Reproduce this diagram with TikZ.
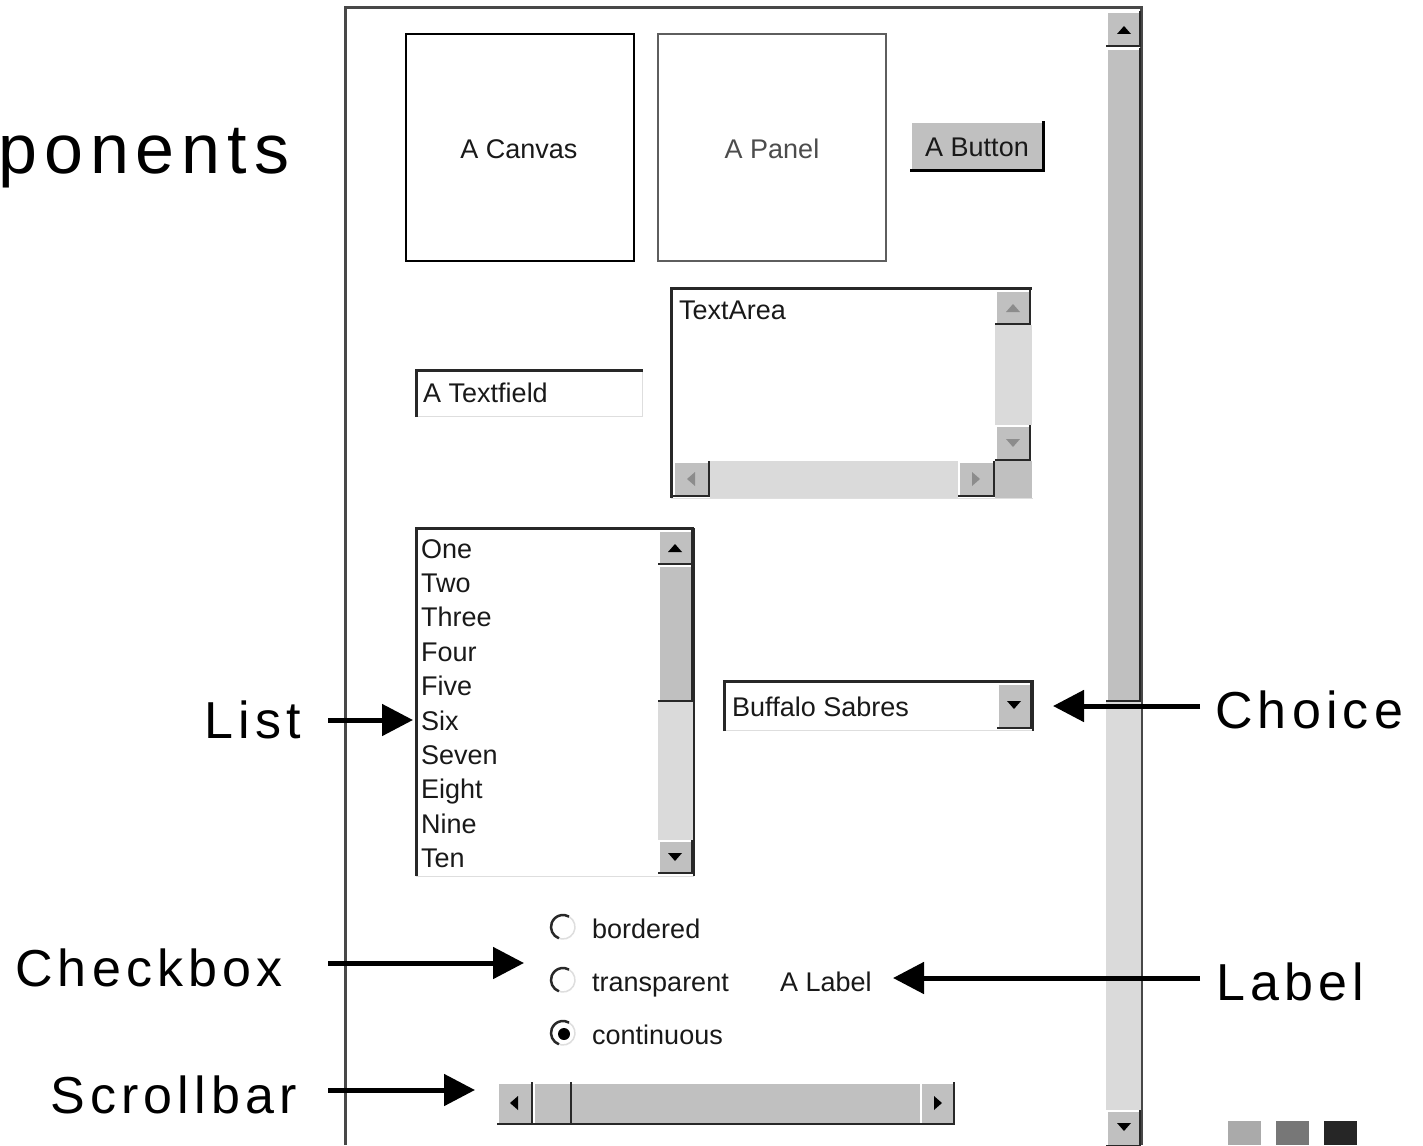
\documentclass[tikz,border=0pt]{standalone}
\usepackage{fontspec}
\setmainfont{Liberation Sans}
\newfontfamily\calloutfont[LetterSpace=10]{Liberation Sans}
\newfontfamily\uifont{Liberation Sans}
\usetikzlibrary{arrows.meta}

\definecolor{face}{RGB}{192,192,192}
\definecolor{track}{RGB}{218,218,218}
\definecolor{edge}{RGB}{40,40,40}
\definecolor{soft}{RGB}{222,222,222}
\definecolor{uitext}{RGB}{25,25,25}
\definecolor{sqA}{RGB}{170,170,170}
\definecolor{sqB}{RGB}{119,119,119}
\definecolor{sqC}{RGB}{38,38,38}

% raised 3-D button face: left, top, right, bottom (y grows downwards)
\newcommand{\bevelbtn}[4]{%
  \fill[face] (#1,#2) rectangle (#3,#4);
  \draw[white,line width=1.5pt] (#1+1,#4-2) -- (#1+1,#2+1) -- (#3-2,#2+1);
  \draw[edge,line width=2pt] (#1,#4-1) -- (#3-1,#4-1) -- (#3-1,#2);
}
% small arrow glyphs on scroll buttons: centre x, centre y, colour
\newcommand{\tipUp}[3]{\fill[#3] (#1-7,#2+4) -- (#1+7,#2+4) -- (#1,#2-4) -- cycle;}
\newcommand{\tipDown}[3]{\fill[#3] (#1-7,#2-4) -- (#1+7,#2-4) -- (#1,#2+4) -- cycle;}
\newcommand{\tipLeft}[3]{\fill[#3] (#1+4,#2-7) -- (#1+4,#2+7) -- (#1-4,#2) -- cycle;}
\newcommand{\tipRight}[3]{\fill[#3] (#1-4,#2-7) -- (#1-4,#2+7) -- (#1+4,#2) -- cycle;}
% radio button: centre x, centre y
\newcommand{\radiobtn}[2]{%
  \fill[white] (#1,#2) circle (12);
  \draw[soft,line width=1.5pt] (#1,#2) ++(300:12) arc[start angle=300, end angle=480, radius=12];
  \draw[edge,line width=2.5pt] (#1,#2) ++(110:12) arc[start angle=110, end angle=300, radius=12];
}

\begin{document}
\begin{tikzpicture}[x=1pt,y=-1pt,
  ui/.style={font=\uifont\fontsize{27}{30}\selectfont, text=uitext, inner sep=0pt},
  callout/.style={font=\calloutfont\fontsize{52}{60}\selectfont, text=black, inner sep=0pt},
  pointer/.style={line width=5pt, -{Triangle[length=31pt,width=31pt]}}]
\useasboundingbox (0,0) rectangle (1423,1145);
\fill[white] (0,0) rectangle (1423,1145);

% page title, running off the left edge
\node[font=\calloutfont\fontsize{70}{80}\selectfont, inner sep=0pt, anchor=base west] (title) at (-2,173) {ponents};

% window frame
\fill[white] (345,7) rectangle (1142,1145);
\draw[edge!85,line width=3pt] (345,1145) -- (345,7.5) -- (1141.5,7.5) -- (1141.5,1145);

% window scrollbar
\fill[track] (1106,48) rectangle (1141,1145);
\bevelbtn{1106}{11}{1141}{47}
\tipUp{1124}{30}{black}
\bevelbtn{1106}{48}{1141}{702}
\bevelbtn{1106}{1110}{1141}{1147}
\tipDown{1124}{1127}{black}

% canvas and panel
\draw[black,line width=2pt] (406,34) rectangle (634,261);
\node[ui] (canvas) at (519,149) {A Canvas};
\draw[edge!75,line width=1.6pt] (658,34) rectangle (886,261);
\node[ui, text=black!70] (panel) at (772,149) {A Panel};

% push button
\bevelbtn{910}{121}{1045}{172}
\draw[black,line width=3pt] (910,170.5) -- (1043.5,170.5) -- (1043.5,121);
\node[ui] (button) at (977,147) {A Button};

% text field
\fill[white] (415,369) rectangle (643,417);
\draw[soft,line width=1pt] (415,416.5) -- (642.5,416.5) -- (642.5,369);
\draw[edge,line width=3pt] (416.5,417) -- (416.5,370.5) -- (643,370.5);
\node[ui, anchor=base west] (textfield) at (423,402) {A Textfield};

% text area with both scrollbars
\fill[white] (671,288) rectangle (1032,498);
\fill[track] (995,325) rectangle (1032,425);
\fill[track] (710,461) rectangle (958,498);
\fill[face] (995,461) rectangle (1032,498);
\bevelbtn{995}{290}{1031}{325}
\tipUp{1013}{308}{black!45}
\bevelbtn{995}{425}{1031}{461}
\tipDown{1013}{443}{black!45}
\bevelbtn{673}{461}{710}{497}
\tipLeft{691}{479}{black!45}
\bevelbtn{958}{461}{995}{497}
\tipRight{976}{479}{black!45}
\draw[soft,line width=1pt] (671,498.5) -- (1033,498.5);
\draw[edge,line width=3pt] (671.5,498) -- (671.5,288.5) -- (1032,288.5);
\node[ui, anchor=base west] (textarea) at (679,319) {TextArea};

% list with scrollbar
\fill[white] (416,528) rectangle (694,876);
\fill[track] (658,702) rectangle (693,840);
\bevelbtn{658}{530}{693}{565}
\tipUp{675}{548}{black}
\bevelbtn{658}{565}{693}{702}
\bevelbtn{658}{840}{693}{874}
\tipDown{675}{857}{black}
\draw[soft,line width=1pt] (416,876) -- (694,876);
\draw[edge,line width=2pt] (694,528) -- (694,876);
\draw[edge,line width=3pt] (416.5,876) -- (416.5,528.5) -- (694,528.5);
\foreach \w [count=\i from 0] in {One,Two,Three,Four,Five,Six,Seven,Eight,Nine,Ten}
  \node[ui, anchor=base west] (item-\w) at (421,{558+34.4*\i}) {\w};

% choice
\fill[white] (723,680) rectangle (1034,731);
\draw[soft,line width=1pt] (723,730.5) -- (1034,730.5);
\bevelbtn{997}{683}{1032}{729}
\tipDown{1014}{705}{black}
\draw[edge,line width=2pt] (1033,680) -- (1033,731);
\draw[edge,line width=3pt] (724.5,731) -- (724.5,681.5) -- (1034,681.5);
\node[ui, anchor=base west] (choice) at (732,716) {Buffalo Sabres};

% radio buttons and label
\radiobtn{563}{927}
\radiobtn{563}{980}
\radiobtn{563}{1033}
\fill[black] (564,1034) circle (6);
\node[ui, anchor=base west] (opt-bordered) at (592,938) {bordered};
\node[ui, anchor=base west] (opt-transparent) at (592,991) {transparent};
\node[ui, anchor=base west] (opt-continuous) at (592,1044) {continuous};
\node[ui, anchor=base west] (alabel) at (780,991) {A Label};

% horizontal scrollbar
\fill[face] (497,1082) rectangle (955,1125);
\draw[white,line width=1.5pt] (572,1083) -- (920,1083);
\draw[edge,line width=2pt] (497,1124) -- (955,1124);
\bevelbtn{497}{1082}{533}{1125}
\tipLeft{514}{1103}{black}
\bevelbtn{533}{1082}{572}{1125}
\bevelbtn{920}{1082}{955}{1125}
\tipRight{938}{1103}{black}

% callout labels
\node[callout, anchor=base west] (lbl-list) at (204,738) {List};
\node[callout, anchor=base west] (lbl-choice) at (1215,728) {Choice};
\node[callout, anchor=base west] (lbl-checkbox) at (15,986) {Checkbox};
\node[callout, anchor=base west] (lbl-label) at (1216,1000) {Label};
\node[callout, anchor=base west] (lbl-scrollbar) at (50,1113) {Scrollbar};

\coordinate (list-tail) at (328,720);
\coordinate (list-tip) at (413,720);
\coordinate (choice-tail) at (1200,706);
\coordinate (choice-tip) at (1053,706);
\coordinate (check-tail) at (328,963);
\coordinate (check-tip) at (524,963);
\coordinate (label-tail) at (1200,978);
\coordinate (label-tip) at (893,978);
\coordinate (scroll-tail) at (328,1090);
\coordinate (scroll-tip) at (475,1090);

\draw[pointer] (list-tail) -- (list-tip);
\draw[pointer] (choice-tail) -- (choice-tip);
\draw[pointer] (check-tail) -- (check-tip);
\draw[pointer] (label-tail) -- (label-tip);
\draw[pointer] (scroll-tail) -- (scroll-tip);

% slide marker squares
\fill[sqA] (1228,1121) rectangle (1261,1145);
\fill[sqB] (1276,1121) rectangle (1309,1145);
\fill[sqC] (1324,1121) rectangle (1357,1145);
\end{tikzpicture}
\end{document}
